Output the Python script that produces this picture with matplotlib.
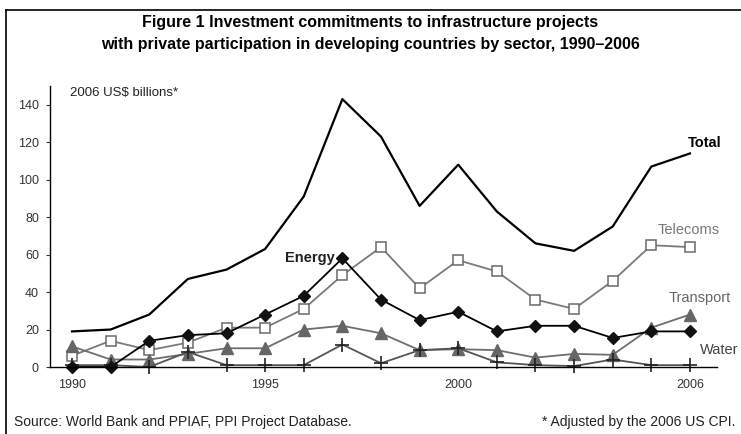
import numpy as np
import matplotlib
matplotlib.use('Agg')
import matplotlib.pyplot as plt
from matplotlib.lines import Line2D

plt.rcParams['font.family'] = ['Liberation Sans', 'DejaVu Sans']

years = list(range(1990, 2007))
total = [19, 20, 28, 47, 52, 63, 91, 143, 123, 86, 108, 83, 66, 62, 75, 107, 114]
telecoms = [6, 14, 9, 13, 21, 21, 31, 49, 64, 42, 57, 51, 36, 31, 46, 65, 64]
energy = [0, 0, 14, 17, 18, 28, 38, 58, 36, 25, 29.5, 19, 22, 22, 15.5, 19, 19]
transport = [11, 4, 4, 7, 10, 10, 20, 22, 18, 9, 9.5, 9, 5, 7, 6.5, 21, 28]
water = [1, 1, 0, 8, 1, 1, 1, 12, 2, 9, 10, 2.5, 1, 0.5, 4, 1, 1]
xticks = [1990, 1995, 2000, 2006]
yticks = [0, 20, 40, 60, 80, 100, 120, 140]

fig = plt.figure(figsize=(7.41, 4.34), dpi=100)
ax = fig.add_axes([50/741, 1-367/434, 667/741, 281/434])

ax.plot(years, total, color='black', lw=1.6, clip_on=False)
ax.plot(years, telecoms, color='#7a7a7a', lw=1.3, marker='s', ms=7,
        mfc='white', mec='#6a6a6a', mew=1.1, clip_on=False)
ax.plot(years, transport, color='#6e6e6e', lw=1.3, marker='^', ms=8,
        mfc='#666666', mec='#666666', clip_on=False)
ax.plot(years, water, color='#555555', lw=1.3, marker='+', ms=10,
        mec='#222222', mew=1.2, clip_on=False)
ax.plot(years, energy, color='black', lw=1.3, marker='D', ms=6.5,
        mfc='#111111', mec='#111111', clip_on=False)

ax.set_xlim(1989.43, 2006.7)
ax.set_ylim(0, 150)
ax.set_xticks(xticks)
ax.set_yticks(yticks)
ax.tick_params(axis='x', length=0, pad=9, labelsize=9, colors='#333333')
ax.tick_params(axis='y', length=3, width=0.8, pad=5, labelsize=9, colors='#333333')
for s in ['top', 'right']:
    ax.spines[s].set_visible(False)
ax.spines['left'].set_linewidth(1.0)
ax.spines['bottom'].set_linewidth(1.0)
ax.patch.set_alpha(0)

ax.text(2005.95, 119.5, 'Total', fontsize=10.5, fontweight='bold', va='center', ha='left')
ax.text(2005.15, 73, 'Telecoms', fontsize=10.5, color='#777777', va='center', ha='left')
ax.text(2005.44, 37, 'Transport', fontsize=10.5, color='#666666', va='center', ha='left', clip_on=False)
ax.text(2006.27, 9, 'Water', fontsize=10.5, color='#444444', va='center', ha='left')
ax.text(1996.8, 58, 'Energy', fontsize=10.5, fontweight='bold', color='#222222', va='center', ha='right')

fig.text(70/741, 1-93/434, '2006 US$ billions*', fontsize=9.5, va='center', ha='left', color='#222222')

fig.text(370/741, 1-22/434, 'Figure 1 Investment commitments to infrastructure projects',
         fontsize=11.5, fontweight='bold', ha='center', va='center')
fig.text(370/741, 1-45/434, 'with private participation in developing countries by sector, 1990\u20132006',
         fontsize=11.5, fontweight='bold', ha='center', va='center')

fig.text(14/741, 1-422/434, 'Source: World Bank and PPIAF, PPI Project Database.',
         fontsize=10, ha='left', va='center', color='#222222')
fig.text(735/741, 1-422/434, '* Adjusted by the 2006 US CPI.',
         fontsize=10, ha='right', va='center', color='#222222')

# frame around the figure (left and top edges)
fig.add_artist(Line2D([6/741, 6/741], [0, 1-10/434], color='black', lw=1.2))
fig.add_artist(Line2D([6/741, 1], [1-10/434, 1-10/434], color='black', lw=1.2))

fig.savefig('out.png', dpi=100)
